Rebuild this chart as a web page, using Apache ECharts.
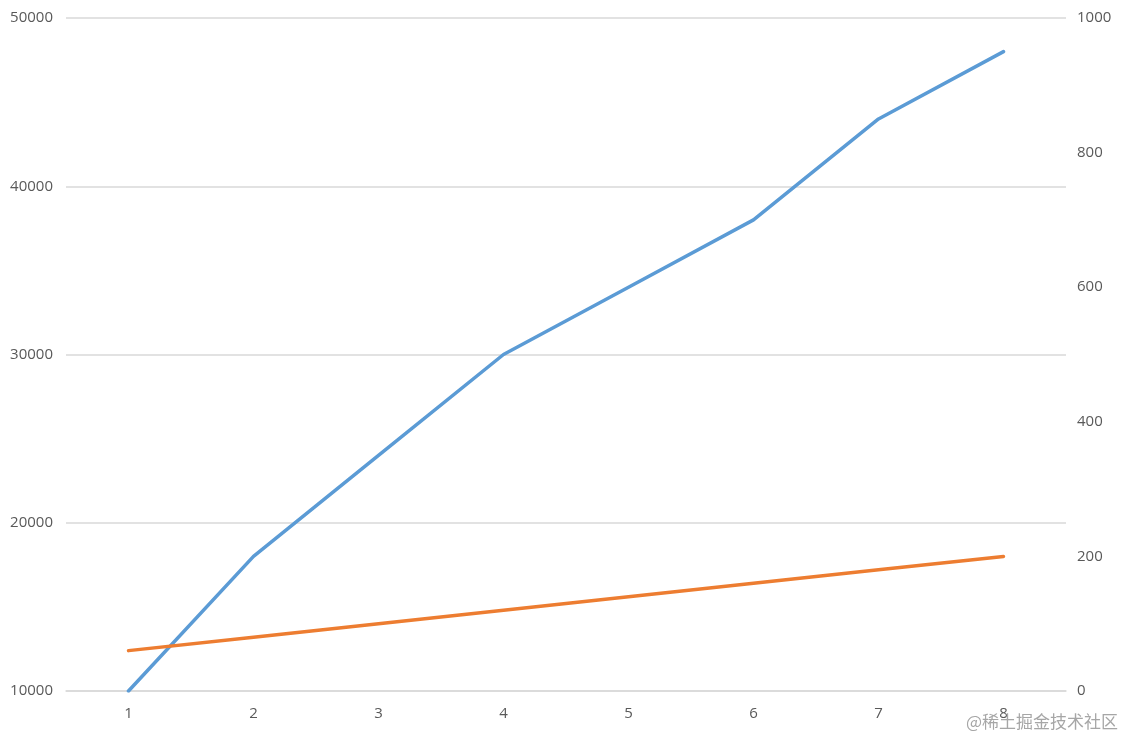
<!DOCTYPE html>
<html><head><meta charset="utf-8">
<script src="https://cdn.jsdelivr.net/npm/echarts@6/dist/echarts.min.js"></script>
<style>html,body{margin:0;padding:0;background:#fff}#c{width:1125px;height:737px}</style>
</head><body><div id="c"></div>
<script>
const categories = ['1','2','3','4','5','6','7','8'];
const blueValues = [10000, 18000, 24000, 30000, 34000, 38000, 44000, 48000];
const orangeValues = [60, 80, 100, 120, 140, 160, 180, 200];

const chart = echarts.init(document.getElementById('c'));
const labelStyle = {color:'#595959', fontSize:15, fontFamily:'"Open Sans", "Noto Sans", sans-serif'};
const plain = v => String(v);
chart.setOption({
  animation:false,
  grid:{left:66, right:59, top:18, bottom:46},
  xAxis:{type:'category', data:categories, boundaryGap:true,
    axisLine:{lineStyle:{color:'#d9d9d9', width:1.5}}, axisTick:{show:false},
    axisLabel:Object.assign({margin:15}, labelStyle)},
  yAxis:[
    {type:'value', min:10000, max:50000, interval:10000, position:'left',
     axisLine:{show:false}, axisTick:{show:false},
     axisLabel:Object.assign({margin:13, formatter:plain}, labelStyle),
     splitLine:{lineStyle:{color:'#d9d9d9', width:1.5}}},
    {type:'value', min:0, max:1000, interval:200, position:'right',
     axisLine:{show:false}, axisTick:{show:false},
     axisLabel:Object.assign({margin:11, formatter:plain}, labelStyle),
     splitLine:{show:false}}
  ],
  series:[
    {type:'line', data:blueValues, yAxisIndex:0, symbol:'none',
     lineStyle:{color:'#5b9bd5', width:3.5, cap:'round', join:'round'}, itemStyle:{color:'#5b9bd5'}},
    {type:'line', data:orangeValues, yAxisIndex:1, symbol:'none',
     lineStyle:{color:'#ed7d31', width:3.5, cap:'round', join:'round'}, itemStyle:{color:'#ed7d31'}}
  ],
  graphic:[{type:'text', right:7, bottom:7, z:100,
    style:{text:'@稀土掘金技术社区', fill:'#a6a6a6', font:'17px "Noto Sans CJK SC", sans-serif'}}]
});
</script></body></html>
